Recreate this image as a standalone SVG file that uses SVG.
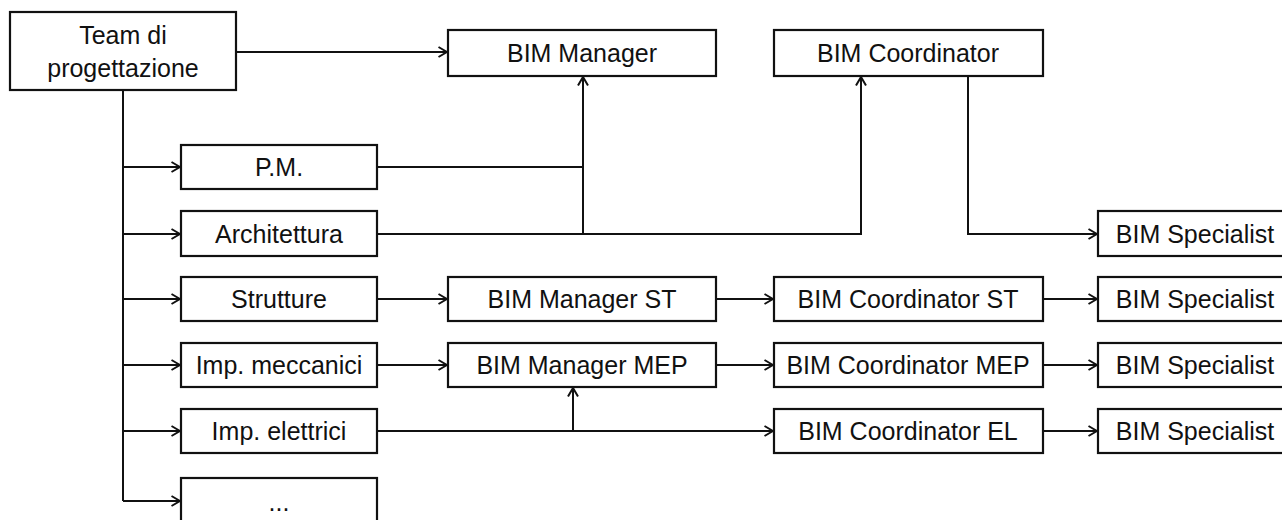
<svg xmlns="http://www.w3.org/2000/svg" width="1282" height="520" viewBox="0 0 1282 520">
<style>
.box{fill:#fff;stroke:#111;stroke-width:2.2}
.t{font-family:"Liberation Sans",Arial,sans-serif;font-size:25px;fill:#111;text-anchor:middle}
.c{fill:none;stroke:#111;stroke-width:2}
</style>
<defs>
<marker id="ah" viewBox="0 0 10 12" refX="9.5" refY="6" markerWidth="10" markerHeight="12" markerUnits="userSpaceOnUse" orient="auto">
<path d="M1,1 L9.5,6 L1,11" fill="none" stroke="#111" stroke-width="2"/>
</marker>
</defs>
<rect width="1282" height="520" fill="#fff"/>
<g id="connectors">
<path class="c" d="M236,52 H447" marker-end="url(#ah)"/>
<path class="c" d="M123,91 V501"/>
<path class="c" d="M123,167 H180" marker-end="url(#ah)"/>
<path class="c" d="M123,234 H180" marker-end="url(#ah)"/>
<path class="c" d="M123,299 H180" marker-end="url(#ah)"/>
<path class="c" d="M123,365 H180" marker-end="url(#ah)"/>
<path class="c" d="M123,431 H180" marker-end="url(#ah)"/>
<path class="c" d="M123,501 H180" marker-end="url(#ah)"/>
<path class="c" d="M377,167 H583"/>
<path class="c" d="M583,234 V77" marker-end="url(#ah)"/>
<path class="c" d="M377,234 H861 V77" marker-end="url(#ah)"/>
<path class="c" d="M968,76 V234 H1097" marker-end="url(#ah)"/>
<path class="c" d="M377,299 H447" marker-end="url(#ah)"/>
<path class="c" d="M716,299 H773" marker-end="url(#ah)"/>
<path class="c" d="M1043,299 H1097" marker-end="url(#ah)"/>
<path class="c" d="M377,365 H447" marker-end="url(#ah)"/>
<path class="c" d="M716,365 H773" marker-end="url(#ah)"/>
<path class="c" d="M1043,365 H1097" marker-end="url(#ah)"/>
<path class="c" d="M377,431 H773" marker-end="url(#ah)"/>
<path class="c" d="M573,431 V388" marker-end="url(#ah)"/>
<path class="c" d="M1043,431 H1097" marker-end="url(#ah)"/>
</g>
<g id="team"><rect class="box" x="10" y="12" width="226" height="78"/><text class="t" x="123" y="44">Team di</text><text class="t" x="123" y="77">progettazione</text></g>
<g id="bim-manager"><rect class="box" x="448" y="30" width="268" height="46"/><text class="t" x="582" y="62">BIM Manager</text></g>
<g id="bim-coordinator"><rect class="box" x="774" y="30" width="269" height="46"/><text class="t" x="908" y="62">BIM Coordinator</text></g>
<g id="pm"><rect class="box" x="181" y="145" width="196" height="44"/><text class="t" x="279" y="176">P.M.</text></g>
<g id="architettura"><rect class="box" x="181" y="211" width="196" height="45"/><text class="t" x="279" y="243">Architettura</text></g>
<g id="strutture"><rect class="box" x="181" y="277" width="196" height="44"/><text class="t" x="279" y="308">Strutture</text></g>
<g id="imp-meccanici"><rect class="box" x="181" y="343" width="196" height="44"/><text class="t" x="279" y="374">Imp. meccanici</text></g>
<g id="imp-elettrici"><rect class="box" x="181" y="409" width="196" height="44"/><text class="t" x="279" y="440">Imp. elettrici</text></g>
<g id="altro"><rect class="box" x="181" y="478" width="196" height="48"/><text class="t" x="279" y="511">...</text></g>
<g id="bim-manager-st"><rect class="box" x="448" y="277" width="268" height="44"/><text class="t" x="582" y="308">BIM Manager ST</text></g>
<g id="bim-manager-mep"><rect class="box" x="448" y="343" width="268" height="44"/><text class="t" x="582" y="374">BIM Manager MEP</text></g>
<g id="bim-coordinator-st"><rect class="box" x="774" y="277" width="269" height="44"/><text class="t" x="908" y="308">BIM Coordinator ST</text></g>
<g id="bim-coordinator-mep"><rect class="box" x="774" y="343" width="269" height="44"/><text class="t" x="908" y="374">BIM Coordinator MEP</text></g>
<g id="bim-coordinator-el"><rect class="box" x="774" y="409" width="269" height="44"/><text class="t" x="908" y="440">BIM Coordinator EL</text></g>
<g id="bim-specialist-1"><rect class="box" x="1098" y="211" width="196" height="45"/><text class="t" x="1195" y="243">BIM Specialist</text></g>
<g id="bim-specialist-2"><rect class="box" x="1098" y="277" width="196" height="44"/><text class="t" x="1195" y="308">BIM Specialist</text></g>
<g id="bim-specialist-3"><rect class="box" x="1098" y="343" width="196" height="44"/><text class="t" x="1195" y="374">BIM Specialist</text></g>
<g id="bim-specialist-4"><rect class="box" x="1098" y="409" width="196" height="44"/><text class="t" x="1195" y="440">BIM Specialist</text></g>
</svg>
